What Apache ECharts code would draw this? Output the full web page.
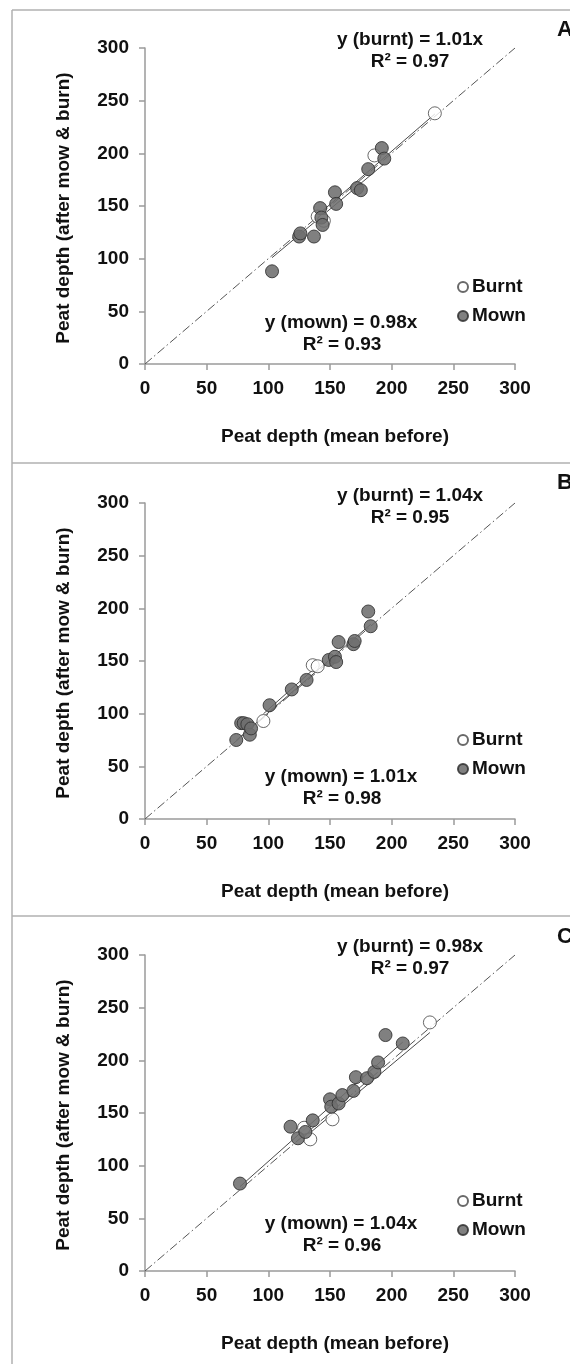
<!DOCTYPE html>
<html>
<head>
<meta charset="utf-8">
<script src="https://cdn.jsdelivr.net/npm/echarts@6/dist/echarts.min.js"></script>
<style>
html,body{margin:0;padding:0;background:#fff;}
#chart{width:570px;height:1364px;}
</style>
</head>
<body>
<div id="chart"></div>
<script>
// ---- data ----
var panelLetters = ['A', 'B', 'C'];
var xTicks = [0, 50, 100, 150, 200, 250, 300];
var oneToOne = [[0, 0], [300, 300]];

var burntA = [[140,140],[145,136],[186,198],[235,238]];
var mownA = [[103,88],[125,121],[126,124],[137,121],[142,148],[143,139],[144,132],[154,163],[155,152],[172,167],[175,165],[181,185],[192,205],[194,195]];

var burntB = [[96,93],[136,146],[140,145]];
var mownB = [[74,75],[78,91],[80,91],[83,90],[85,80],[86,86],[101,108],[119,123],[131,132],[149,151],[154,154],[155,149],[157,168],[169,166],[170,169],[181,197],[183,183]];

var burntC = [[129,136],[134,125],[152,144],[231,236]];
var mownC = [[77,83],[118,137],[124,126],[130,132],[136,143],[150,163],[151,156],[157,159],[160,167],[169,171],[171,184],[180,183],[186,189],[189,198],[195,224],[209,216]];

var burntSlopes = [1.01, 1.04, 0.98];
var mownSlopes = [0.98, 1.01, 1.04];
var burntR2 = ['0.97', '0.95', '0.97'];
var mownR2 = ['0.93', '0.98', '0.96'];

var xTitle = 'Peat depth (mean before)';
var yTitle = 'Peat depth (after mow & burn)';

// ---- layout ----
var FONT = '"Liberation Sans", Arial, Helvetica, sans-serif';
var FS = 19;
var gridTops = [48, 503, 955];
var gridH = 316;
var gridLeft = 145, gridW = 370;
var burntSets = [burntA, burntB, burntC];
var mownSets = [mownA, mownB, mownC];
var burntEqY = [40, 496, 947];
var mownEqY = [323, 777, 1224];
var legendTops = [277, 730, 1191];
var letterY = [30, 483, 937];

function regLine(pts, slope) {
  var xs = pts.map(function (p) { return p[0]; });
  var lo = Math.min.apply(null, xs), hi = Math.max.apply(null, xs);
  return [[lo, slope * lo], [hi, slope * hi]];
}

var grids = [], xAxes = [], yAxes = [], series = [], legends = [], graphics = [];

for (var i = 0; i < 3; i++) {
  grids.push({ left: gridLeft, width: gridW, top: gridTops[i], height: gridH });
  xAxes.push({
    gridIndex: i, type: 'value', min: 0, max: 300, interval: 50,
    axisLine: { show: true, lineStyle: { color: '#9a9a9a', width: 1.5 } },
    axisTick: { show: true, length: 6, lineStyle: { color: '#9a9a9a', width: 1.5 } },
    splitLine: { show: false },
    axisLabel: { margin: 15, color: '#111', fontFamily: FONT, fontWeight: 'bold', fontSize: FS }
  });
  yAxes.push({
    gridIndex: i, type: 'value', min: 0, max: 300, interval: 50,
    axisLine: { show: true, lineStyle: { color: '#9a9a9a', width: 1.5 } },
    axisTick: { show: true, length: 6, lineStyle: { color: '#9a9a9a', width: 1.5 } },
    splitLine: { show: false },
    axisLabel: { margin: 16, color: '#111', fontFamily: FONT, fontWeight: 'bold', fontSize: FS }
  });
  series.push({
    type: 'line', xAxisIndex: i, yAxisIndex: i, data: oneToOne, symbol: 'none', silent: true,
    lineStyle: { color: '#555', width: 1, type: [9, 3, 1.5, 3] }, z: 1
  });
  series.push({
    type: 'line', xAxisIndex: i, yAxisIndex: i, data: regLine(burntSets[i], burntSlopes[i]), symbol: 'none', silent: true,
    lineStyle: { color: '#4a4a4a', width: 1 }, z: 2
  });
  series.push({
    type: 'line', xAxisIndex: i, yAxisIndex: i, data: regLine(mownSets[i], mownSlopes[i]), symbol: 'none', silent: true,
    lineStyle: { color: '#4a4a4a', width: 1 }, z: 2
  });
  series.push({
    name: 'Burnt', type: 'scatter', xAxisIndex: i, yAxisIndex: i, data: burntSets[i], symbolSize: 13,
    itemStyle: { color: '#ffffff', borderColor: '#444', borderWidth: 1 }, z: 3
  });
  series.push({
    name: 'Mown', type: 'scatter', xAxisIndex: i, yAxisIndex: i, data: mownSets[i], symbolSize: 13,
    itemStyle: { color: '#6e6e6e', borderColor: '#333', borderWidth: 1, opacity: 0.88 }, z: 4
  });
  legends.push({
    data: ['Burnt', 'Mown'], orient: 'vertical', left: 457, top: legendTops[i], padding: 0,
    icon: 'circle', itemWidth: 10, itemHeight: 10, itemGap: 9, selectedMode: false,
    textStyle: { fontFamily: FONT, fontWeight: 'bold', fontSize: FS, color: '#111', lineHeight: 20, padding: [0, 0, 0, -1] }
  });

  var f = 'bold ' + FS + 'px ' + FONT;
  graphics.push({ type: 'text', x: 410, y: burntEqY[i], style: { text: 'y (burnt) = ' + burntSlopes[i].toFixed(2) + 'x', font: f, fill: '#111', align: 'center', verticalAlign: 'middle' } });
  graphics.push({ type: 'text', x: 410, y: burntEqY[i] + 22, style: { text: 'R² = ' + burntR2[i], font: f, fill: '#111', align: 'center', verticalAlign: 'middle' } });
  graphics.push({ type: 'text', x: 341, y: mownEqY[i], style: { text: 'y (mown) = ' + mownSlopes[i].toFixed(2) + 'x', font: f, fill: '#111', align: 'center', verticalAlign: 'middle' } });
  graphics.push({ type: 'text', x: 342, y: mownEqY[i] + 22, style: { text: 'R² = ' + mownR2[i], font: f, fill: '#111', align: 'center', verticalAlign: 'middle' } });
  graphics.push({ type: 'text', x: 335, y: gridTops[i] + gridH + 73, style: { text: xTitle, font: f, fill: '#111', align: 'center', verticalAlign: 'middle' } });
  graphics.push({ type: 'text', x: 64, y: gridTops[i] + gridH / 2 + 2, rotation: Math.PI / 2, style: { text: yTitle, font: f, fill: '#111', align: 'center', verticalAlign: 'middle' } });
  graphics.push({ type: 'text', x: 557, y: letterY[i], style: { text: panelLetters[i], font: 'bold 22px ' + FONT, fill: '#111', align: 'left', verticalAlign: 'middle' } });
}

// panel frame lines
var frameColor = '#b0b0b0';
graphics.push({ type: 'line', shape: { x1: 12, y1: 10, x2: 570, y2: 10 }, style: { stroke: frameColor, lineWidth: 1.5 } });
graphics.push({ type: 'line', shape: { x1: 12, y1: 10, x2: 12, y2: 1364 }, style: { stroke: frameColor, lineWidth: 1.5 } });
graphics.push({ type: 'line', shape: { x1: 12, y1: 463, x2: 570, y2: 463 }, style: { stroke: frameColor, lineWidth: 1.5 } });
graphics.push({ type: 'line', shape: { x1: 12, y1: 916, x2: 570, y2: 916 }, style: { stroke: frameColor, lineWidth: 1.5 } });

var chart = echarts.init(document.getElementById('chart'), null, { renderer: 'canvas' });
chart.setOption({
  animation: false,
  backgroundColor: '#fff',
  grid: grids,
  xAxis: xAxes,
  yAxis: yAxes,
  legend: legends,
  series: series,
  graphic: graphics
});
</script>
</body>
</html>
